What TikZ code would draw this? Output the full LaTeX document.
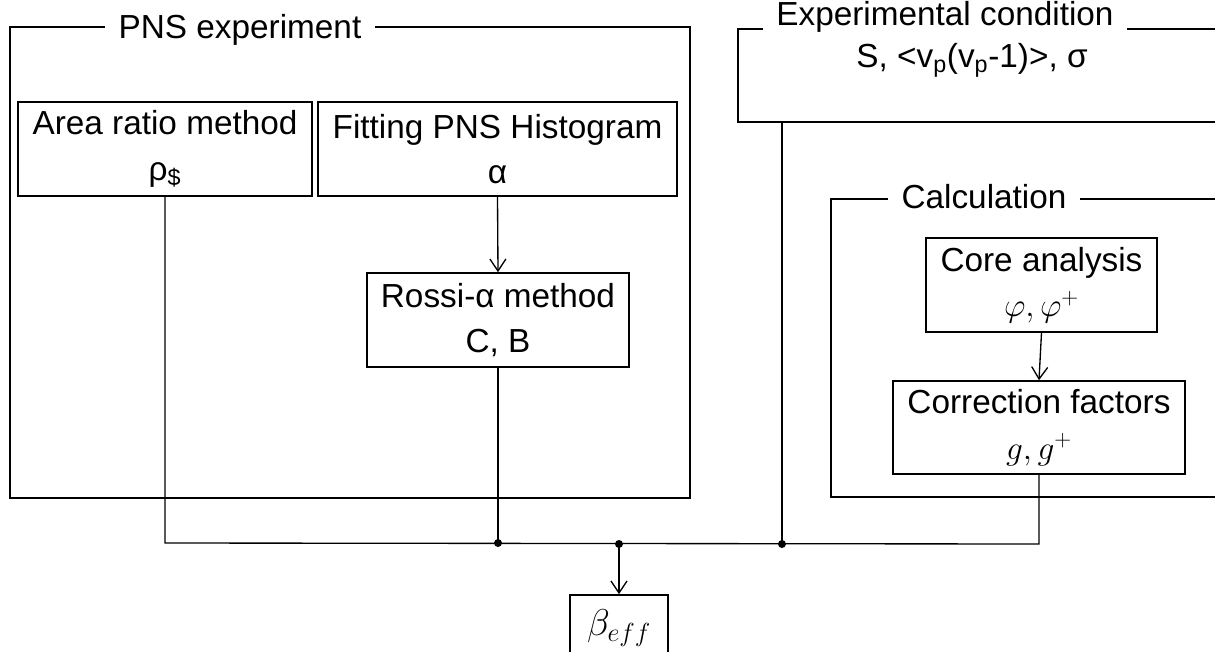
\documentclass[tikz,border=0pt]{standalone}
\usepackage{fix-cm}
\usepackage{fontspec}
\setmainfont{Liberation Sans}
\usetikzlibrary{arrows.meta}
\tikzset{every picture/.style={line width=0.75pt}}

\begin{document}
\begin{tikzpicture}[x=0.75pt,y=0.75pt,yscale=-1,xscale=1,
	font=\fontsize{25}{34}\selectfont,
	box/.style={draw,line width=1.2pt,inner sep=0pt,align=center},
	frame/.style={line width=1.2pt},
	title/.style={fill=white,inner xsep=10pt,inner ysep=2pt,anchor=base},
	link/.style={line width=1pt},
	arr/.style={line width=1pt,-{Straight Barb[length=9pt,width=12pt]}}]
		\useasboundingbox (0,0) rectangle (1215,651);
		\clip (0,0) rectangle (1215,651);
		
		%Frames
		\draw[frame] (10,27) rectangle (690,498);
		\draw[frame] (1225,122) -- (738,122) -- (738,29) -- (1225,29);
		\draw[frame] (1225,199) -- (831,199) -- (831,497) -- (1225,497);
		
		% Text Node
		\node[title] (pnstitle) at (240,38) {PNS experiment};
		% Text Node
		\node[title] (exptitle) at (945,25) {Experimental condition};
		% Text Node
		\node[title] (calctitle) at (984,208) {Calculation};
		% Text Node
		\node[anchor=base] (expvals) at (972,67) {S, <v\textsubscript{p}(v\textsubscript{p}-1)>, σ};
		
		% Boxes
		\node[box,minimum width=220.5pt,minimum height=70.5pt] (area) at (165,149) {Area ratio method\\ρ\textsubscript{\$}};
		\node[box,minimum width=269.25pt,minimum height=70.5pt] (fit) at (497.5,149) {Fitting PNS Histogram\\α};
		\node[box,minimum width=196.5pt,minimum height=70.5pt] (rossi) at (498,320) {Rossi-α method\\C, B};
		\node[box,minimum width=173.25pt,minimum height=70.5pt] (core) at (1041.5,285) {Core analysis\\$\varphi,\varphi^{+}$};
		\node[box,minimum width=219pt,minimum height=69.75pt] (corr) at (1039,427.5) {Correction factors\\$g,g^{+}$};
		\node[box,minimum width=73.5pt,minimum height=49.5pt,font=\fontsize{28}{34}\selectfont] (beta) at (619,628) {$\beta_{eff}$};
		
		% Bus coordinates
		\coordinate (busL) at (165,543);
		\coordinate (j1) at (498,543);
		\coordinate (j2) at (619,544);
		\coordinate (j3) at (782,544);
		\coordinate (busR) at (1039,544);
		\coordinate (expfoot) at (782,122);
		
		%Straight Lines
		\draw[arr] (fit.south) -- (rossi.north);
		\draw[arr] (core.south) -- (corr.north);
		\draw[link] (area.south) -- (busL) -- (busR) -- (corr.south);
		\draw[link] (rossi.south) -- (j1);
		\draw[link] (expfoot) -- (j3);
		\draw[arr] (j2) -- (beta.north);
		
		% Junction dots
		\fill (j1) circle[radius=3pt];
		\fill (j2) circle[radius=3pt];
		\fill (j3) circle[radius=3pt];
		
	\end{tikzpicture}
\end{document}
